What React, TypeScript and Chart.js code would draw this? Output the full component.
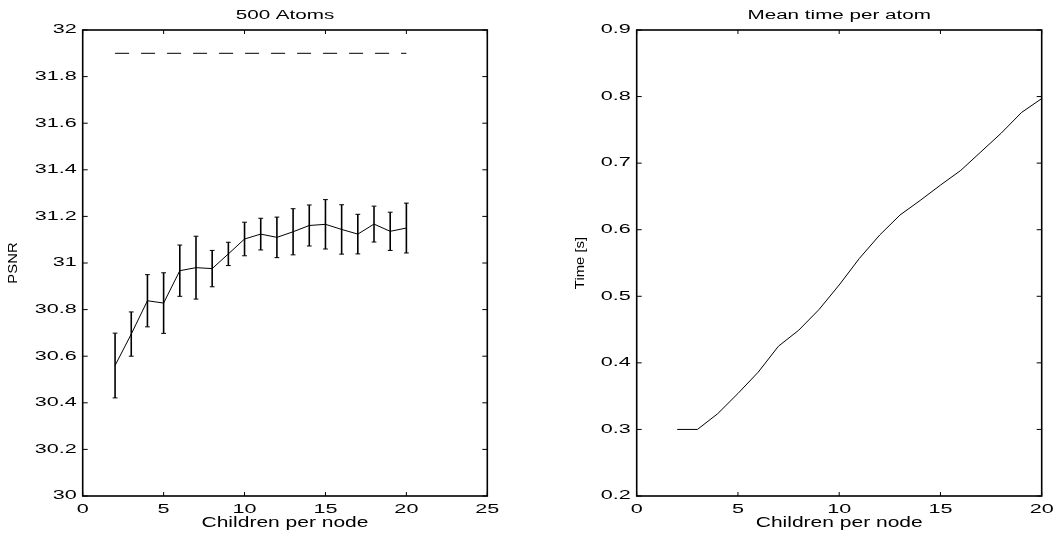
import React, { useEffect, useRef } from 'react';
import { Chart, registerables } from 'chart.js';
Chart.register(...registerables);

// ---------- data ----------
const childrenPerNode = [2, 3, 4, 5, 6, 7, 8, 9, 10, 11, 12, 13, 14, 15, 16, 17, 18, 19, 20];
const psnrMean = [30.56, 30.695, 30.838, 30.828, 30.967, 30.98, 30.976, 31.039, 31.103, 31.124, 31.11, 31.134, 31.161, 31.166, 31.144, 31.124, 31.167, 31.136, 31.15];
const psnrErr = [0.139, 0.095, 0.112, 0.13, 0.11, 0.135, 0.078, 0.05, 0.072, 0.068, 0.087, 0.099, 0.088, 0.106, 0.106, 0.085, 0.077, 0.082, 0.107];
const baselineX = [2, 20];
const baselinePsnr = [31.9, 31.9];
const timePerAtom = [0.3, 0.3, 0.3236, 0.354, 0.386, 0.425, 0.449, 0.48, 0.517, 0.557, 0.592, 0.622, 0.644, 0.667, 0.689, 0.717, 0.745, 0.776, 0.797];

const psnrXTicks = [0, 5, 10, 15, 20, 25];
const psnrYTicks = [30, 30.2, 30.4, 30.6, 30.8, 31, 31.2, 31.4, 31.6, 31.8, 32];
const psnrYTickLabels = ['30', '30.2', '30.4', '30.6', '30.8', '31', '31.2', '31.4', '31.6', '31.8', '32'];
const timeXTicks = [0, 5, 10, 15, 20];
const timeYTicks = [0.2, 0.3, 0.4, 0.5, 0.6, 0.7, 0.8, 0.9];
const timeYTickLabels = ['0.2', '0.3', '0.4', '0.5', '0.6', '0.7', '0.8', '0.9'];

const FONT = 'Liberation Sans';
const TICK_SIZE = 12;
const TITLE_SIZE = 12.5;
const XLABEL_SIZE = 14;
const YLABEL_SIZE = 13.5;
// horizontal stretch of the glyphs in the reference, per text size
const STRETCH: Record<string, number> = { '12': 1.8, '12.5': 1.65, '14': 1.5, '13.5': 1.1 };

function stretchFor(ctx: CanvasRenderingContext2D) {
  const m = /([\d.]+)px/.exec(ctx.font);
  const key = m ? String(parseFloat(m[1])) : '12';
  return STRETCH[key] ?? 1;
}

function patchContext(ctx: any) {
  if (ctx.__stretched) return;
  ctx.__stretched = true;
  const origFill = ctx.fillText.bind(ctx);
  const origMeasure = ctx.measureText.bind(ctx);
  ctx.fillText = (text: string, x: number, y: number, maxWidth?: number) => {
    const f = stretchFor(ctx);
    ctx.save();
    ctx.translate(x, y);
    ctx.scale(f, 1);
    if (maxWidth !== undefined) origFill(text, 0, 0, maxWidth / f);
    else origFill(text, 0, 0);
    ctx.restore();
  };
  ctx.measureText = (text: string) => {
    const m = origMeasure(text);
    const f = stretchFor(ctx);
    return {
      width: m.width * f,
      actualBoundingBoxLeft: m.actualBoundingBoxLeft * f,
      actualBoundingBoxRight: m.actualBoundingBoxRight * f,
      actualBoundingBoxAscent: m.actualBoundingBoxAscent,
      actualBoundingBoxDescent: m.actualBoundingBoxDescent,
      fontBoundingBoxAscent: m.fontBoundingBoxAscent,
      fontBoundingBoxDescent: m.fontBoundingBoxDescent,
    };
  };
}

const stretchPlugin = {
  id: 'stretch',
  beforeInit(c: any) { patchContext(c.ctx); },
};

const framePlugin = {
  id: 'frame',
  afterDraw(c: any) {
    const { ctx, chartArea: a, scales } = c;
    const x = scales.x, y = scales.y;
    ctx.save();
    ctx.strokeStyle = '#000';
    ctx.lineWidth = 1;
    ctx.beginPath();
    x.ticks.forEach((t: any) => {
      const px = x.getPixelForValue(t.value);
      ctx.moveTo(px, a.bottom); ctx.lineTo(px, a.bottom - 4);
      ctx.moveTo(px, a.top); ctx.lineTo(px, a.top + 4);
    });
    y.ticks.forEach((t: any) => {
      const py = y.getPixelForValue(t.value);
      ctx.moveTo(a.left, py); ctx.lineTo(a.left + 5, py);
      ctx.moveTo(a.right, py); ctx.lineTo(a.right - 5, py);
    });
    ctx.stroke();
    ctx.lineWidth = 1.6;
    ctx.strokeRect(a.left, a.top, a.right - a.left, a.bottom - a.top);
    ctx.restore();
  },
};

function makeOptions(cfg: {
  title: string; yTitle: string; xMax: number; yMin: number; yMax: number;
  xTicks: number[]; yTicks: number[]; yLabels: string[];
  padLeft: number; padRight: number; yWidth: number; yPad: number;
}) {
  return {
    animation: false,
    responsive: false,
    maintainAspectRatio: false,
    layout: { padding: { left: cfg.padLeft, right: cfg.padRight, top: 0, bottom: 0 } },
    plugins: {
      legend: { display: false },
      tooltip: { enabled: false },
      title: {
        display: true, text: cfg.title, color: '#000', fullSize: false,
        font: { family: FONT, size: TITLE_SIZE, weight: 'normal' },
        padding: { top: 8, bottom: 7 },
      },
    },
    scales: {
      x: {
        type: 'linear', min: 0, max: cfg.xMax,
        grid: { display: false, drawTicks: false },
        border: { display: false },
        afterBuildTicks: (s: any) => { s.ticks = cfg.xTicks.map((v) => ({ value: v })); },
        afterFit: (s: any) => { s.height = 37; s.paddingLeft = 0; s.paddingRight = 0; },
        ticks: { color: '#000', padding: 6, maxRotation: 0, autoSkip: false, font: { family: FONT, size: TICK_SIZE }, callback: (v: any) => String(v) },
        title: { display: true, text: 'Children per node', color: '#000', font: { family: FONT, size: XLABEL_SIZE }, padding: { top: 0, bottom: 1 } },
      },
      y: {
        type: 'linear', min: cfg.yMin, max: cfg.yMax,
        grid: { display: false, drawTicks: false },
        border: { display: false },
        afterBuildTicks: (s: any) => { s.ticks = cfg.yTicks.map((v) => ({ value: v })); },
        afterFit: (s: any) => { s.width = cfg.yWidth; s.paddingTop = 0; s.paddingBottom = 0; },
        ticks: { color: '#000', padding: cfg.yPad, autoSkip: false, font: { family: FONT, size: TICK_SIZE }, callback: (_v: any, i: number) => cfg.yLabels[i] },
        title: { display: true, text: cfg.yTitle, color: '#000', font: { family: FONT, size: YLABEL_SIZE }, padding: { top: 5.2, bottom: 0 } },
      },
    },
  } as any;
}

function PsnrChart() {
  const ref = useRef<HTMLCanvasElement>(null);
  useEffect(() => {
    const errSegments: any[] = [];
    const capsHi: any[] = [];
    const capsLo: any[] = [];
    childrenPerNode.forEach((x, i) => {
      errSegments.push({ x, y: psnrMean[i] - psnrErr[i] });
      errSegments.push({ x, y: psnrMean[i] + psnrErr[i] });
      errSegments.push({ x, y: null });
      capsHi.push({ x, y: psnrMean[i] + psnrErr[i] });
      capsLo.push({ x, y: psnrMean[i] - psnrErr[i] });
    });
    const chart = new Chart(ref.current!, {
      type: 'line',
      data: {
        datasets: [
          { data: childrenPerNode.map((x, i) => ({ x, y: psnrMean[i] })), borderColor: '#000', borderWidth: 1, pointRadius: 0, tension: 0 },
          { data: errSegments, borderColor: '#000', borderWidth: 1.6, pointRadius: 0, spanGaps: false },
          { data: capsHi, showLine: false, pointStyle: 'line', pointRadius: 2.4, borderColor: '#000', borderWidth: 1 },
          { data: capsLo, showLine: false, pointStyle: 'line', pointRadius: 2.4, borderColor: '#000', borderWidth: 1 },
          { data: baselineX.map((x, i) => ({ x, y: baselinePsnr[i] })), borderColor: '#000', borderWidth: 1, borderDash: [14, 12], pointRadius: 0 },
        ],
      } as any,
      options: makeOptions({
        title: '500 Atoms', yTitle: 'PSNR', xMax: 25, yMin: 30, yMax: 32,
        xTicks: psnrXTicks, yTicks: psnrYTicks, yLabels: psnrYTickLabels,
        padLeft: 0, padRight: 39.7, yWidth: 82.7, yPad: 6,
      }),
      plugins: [stretchPlugin, framePlugin],
    });
    return () => chart.destroy();
  }, []);
  return <canvas ref={ref} width={527} height={533} style={{ position: 'absolute', left: 0, top: 0, width: 527, height: 533 }} />;
}

function TimeChart() {
  const ref = useRef<HTMLCanvasElement>(null);
  useEffect(() => {
    const chart = new Chart(ref.current!, {
      type: 'line',
      data: {
        datasets: [
          { data: childrenPerNode.map((x, i) => ({ x, y: timePerAtom[i] })), borderColor: '#000', borderWidth: 1, pointRadius: 0, tension: 0 },
        ],
      } as any,
      options: makeOptions({
        title: 'Mean time per atom', yTitle: 'Time [s]', xMax: 20, yMin: 0.2, yMax: 0.9,
        xTicks: timeXTicks, yTicks: timeYTicks, yLabels: timeYTickLabels,
        padLeft: 40, padRight: 13.3, yWidth: 69.7, yPad: 6,
      }),
      plugins: [stretchPlugin, framePlugin],
    });
    return () => chart.destroy();
  }, []);
  return <canvas ref={ref} width={528} height={533} style={{ position: 'absolute', left: 527, top: 0, width: 528, height: 533 }} />;
}

export default function App() {
  return (
    <div style={{ position: 'fixed', left: 0, top: 0, width: 1055, height: 533, background: '#fff' }}>
      <PsnrChart />
      <TimeChart />
    </div>
  );
}
